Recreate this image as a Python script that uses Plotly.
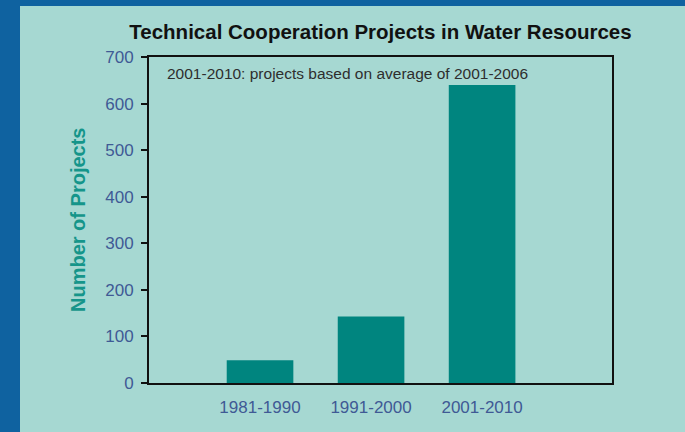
import plotly.graph_objects as go

categories = ["1981-1990", "1991-2000", "2001-2010"]
projects = [49, 143, 640]
y_ticks = [0, 100, 200, 300, 400, 500, 600, 700]

FONT = "Arial, Liberation Sans, sans-serif"
PANEL = "#a6d8d2"
BLUE = "#0f62a0"
BAR = "#00857f"
TICK_COLOR = "#3f5a95"

fig = go.Figure(
    go.Bar(x=categories, y=projects, width=0.6, marker=dict(color=BAR, line=dict(width=0)))
)

fig.update_layout(
    width=685, height=432,
    margin=dict(l=149, r=73, t=57, b=49),
    paper_bgcolor=BLUE,
    plot_bgcolor="rgba(0,0,0,0)",
    showlegend=False,
    title=dict(
        text="<b>Technical Cooperation Projects in Water Resources</b>",
        x=0.5, xref="paper", xanchor="center",
        y=1 - 32 / 432, yref="container", yanchor="middle",
        font=dict(family=FONT, size=20.5, color="#111111"),
    ),
    shapes=[
        dict(type="rect", xref="paper", yref="paper", layer="below",
             x0=(20 - 149) / 463, x1=1.2, y0=-0.3, y1=(383 - 6) / 326,
             fillcolor=PANEL, line=dict(width=0)),
    ],
    annotations=[
        dict(text="2001-2010: projects based on average of 2001-2006",
             xref="paper", yref="paper", x=(165 - 149) / 463, y=(383 - 73) / 326,
             xanchor="left", yanchor="middle", showarrow=False,
             font=dict(family=FONT, size=15.5, color="#2e2e2e")),
        dict(text="<b>Number of Projects</b>", textangle=-90,
             xref="paper", yref="paper", x=(78 - 149) / 463, y=(383 - 220) / 326,
             xanchor="center", yanchor="middle", showarrow=False,
             font=dict(family=FONT, size=20, color="#15958a")),
    ],
)

fig.update_xaxes(
    type="category", range=[-1, 3.17],
    showline=True, linecolor="#111111", linewidth=2, mirror=True,
    ticks="", showgrid=False, zeroline=False,
    tickfont=dict(family=FONT, size=17, color=TICK_COLOR),
    ticklabelstandoff=8,
)
fig.update_yaxes(
    range=[0, 700], tickvals=y_ticks,
    showline=True, linecolor="#111111", linewidth=2, mirror=True,
    ticks="outside", ticklen=6, tickwidth=2, tickcolor="#111111",
    showgrid=False, zeroline=False,
    tickfont=dict(family=FONT, size=17, color=TICK_COLOR),
    ticklabelstandoff=4,
)

fig.write_html(
    "out.html",
    config={"displayModeBar": False},
    post_script="document.body.style.margin='0';document.body.style.overflow='hidden';",
)
